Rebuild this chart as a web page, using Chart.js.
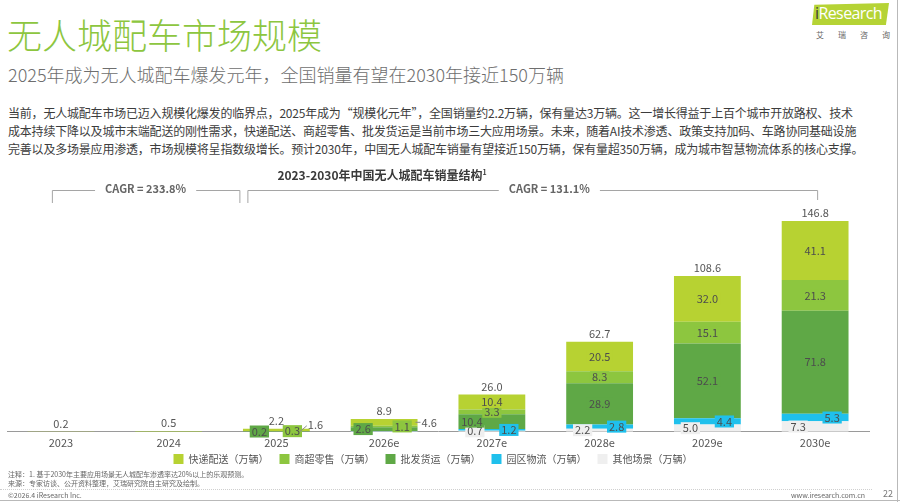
<!DOCTYPE html>
<html>
<head>
<meta charset="utf-8">
<script src="https://cdn.jsdelivr.net/npm/chart.js@4/dist/chart.umd.min.js"></script>
<style>
  html, body { margin: 0; padding: 0; background: #fff; }
  body { width: 900px; height: 502px; position: relative; overflow: hidden;
         font-family: "Noto Sans CJK SC", "Noto Sans", sans-serif; }
  .abs { position: absolute; white-space: nowrap; }
  #title { left: 7px; top: 16px; font-size: 35px; line-height: 35px; color: #8dc63f; font-weight: 300; }
  #subtitle { left: 8px; top: 64px; font-size: 18px; line-height: 20px; color: #6e6e6e; font-weight: 300; }
  #para { left: 8px; top: 104px; font-size: 12px; line-height: 18px; color: #3c3c3c; letter-spacing: -0.2px; }
  #ctitle { left: 382px; top: 164px; transform: translateX(-50%); font-size: 12px; line-height: 16px; font-weight: bold; color: #3a3a3a; }
  #ctitle sup { font-size: 7px; vertical-align: 5px; }
  #chartBox { position: absolute; left: 0; top: 160px; width: 900px; height: 320px; }
  .note { left: 8px; font-size: 7px; line-height: 8px; color: #666; }
  #footline { position: absolute; left: 0; top: 489px; width: 872px; border-top: 1px dotted #cfcfcf; }
  #logo { position: absolute; left: 812px; top: 3px; width: 77px; height: 22px; background: #b5d335;
          clip-path: polygon(3% 8%, 100% 0%, 96% 100%, 0% 100%); }
  #logoText { left: 815px; top: 3px; font-family: "Open Sans", "DejaVu Sans", sans-serif; font-size: 16px; line-height: 21px; color: #fff; letter-spacing: -0.6px; }
  #logoCn { left: 816px; top: 30px; font-size: 8px; line-height: 10px; color: #666; letter-spacing: 14px; }
  #rborder { position: absolute; left: 897px; top: 0; width: 1px; height: 502px; background: #b9b9b9; }
  #bborder { position: absolute; left: 0; top: 500px; width: 900px; height: 1px; background: #b9b9b9; }
</style>
</head>
<body>
<div id="title" class="abs">无人城配车市场规模</div>
<div id="subtitle" class="abs">2025年成为无人城配车爆发元年，全国销量有望在2030年接近150万辆</div>
<div id="para" class="abs">当前，无人城配车市场已迈入规模化爆发的临界点，2025年成为“规模化元年”，全国销量约2.2万辆，保有量达3万辆。这一增长得益于上百个城市开放路权、技术<br>成本持续下降以及城市末端配送的刚性需求，快递配送、商超零售、批发货运是当前市场三大应用场景。未来，随着AI技术渗透、政策支持加码、车路协同基础设施<br>完善以及多场景应用渗透，市场规模将呈指数级增长。预计2030年，中国无人城配车销量有望接近150万辆，保有量超350万辆，成为城市智慧物流体系的核心支撑。</div>
<div id="chartBox"><canvas id="chart"></canvas></div>
<div id="ctitle" class="abs">2023-2030年中国无人城配车销量结构<sup>1</sup></div>
<div class="abs note" style="top:470px;">注释：1. 基于2030年主要应用场景无人城配车渗透率达20%以上的乐观预测。</div>
<div class="abs note" style="top:479px;">来源：专家访谈、公开资料整理，艾瑞研究院自主研究及绘制。</div>
<div id="footline"></div>
<div class="abs note" style="top:491px;">©2026.4 iResearch Inc.</div>
<div class="abs note" style="top:491px; left:auto; right:35px;">www.iresearch.com.cn</div>
<div class="abs" style="top:489px; left:883px; font-size:9px; line-height:10px; color:#777;">22</div>
<div id="logo"></div>
<div id="logoText" class="abs"><span style="color:#3b3b3b">i</span>Research</div>
<div id="logoCn" class="abs">艾瑞咨询</div>
<div id="rborder"></div>
<div id="bborder"></div>

<script>
// ---- data ----
const categories = ['2023', '2024', '2025', '2026e', '2027e', '2028e', '2029e', '2030e'];
const otherScene = [0, 0, 0, 0.3, 0.7, 2.2, 5.0, 7.3];        // 其他场景
const parkLogistics = [0, 0, 0.1, 0.3, 1.2, 2.8, 4.4, 5.3];   // 园区物流
const wholesale = [0, 0.1, 0.2, 2.6, 10.4, 28.9, 52.1, 71.8]; // 批发货运
const retail = [0, 0.1, 0.3, 1.1, 3.3, 8.3, 15.1, 21.3];      // 商超零售
const express = [0.2, 0.3, 1.6, 4.6, 10.4, 20.5, 32.0, 41.1]; // 快递配送
const totals = [0.2, 0.5, 2.2, 8.9, 26.0, 62.7, 108.6, 146.8];
const seriesNames = ['其他场景（万辆）', '园区物流（万辆）', '批发货运（万辆）', '商超零售（万辆）', '快递配送（万辆）'];
const cagrTexts = ['CAGR = 233.8%', 'CAGR = 131.1%'];

// ---- styles ----
const colors = ['#efefef', '#1fc0ec', '#5fa846', '#8dc63f', '#b7d232'];
const FONT = '"Noto Sans CJK SC", "Noto Sans", sans-serif';

// label placement rules (styling only)
function placement(ds, j) {
  if (j < 2) return null;
  if (ds === 0) return j >= 4 ? { dx: -17 } : null;
  if (ds === 1) return j >= 4 ? { dx: 17 } : null;
  if (ds === 2) { if (j === 2) return { dx: -17 }; if (j === 3) return { dx: -21 }; if (j === 4) return { dx: -20 }; return { dx: 0 }; }
  if (ds === 3) { if (j === 2) return { dx: 16 }; if (j === 3) return { dx: 18 }; return { dx: 0 }; }
  if (ds === 4) {
    if (j === 2) return { outside: true, l: [-10, 2, -3, -4], t: [-2, -5] };
    if (j === 3) return { outside: true, l: [-2, 0, 3, 0], t: [4, 0] };
    return { dx: 0 };
  }
  return null;
}

const labelPlugin = {
  id: 'labels',
  afterDatasetsDraw(chart) {
    const ctx = chart.ctx;
    ctx.save();
    ctx.font = '11px ' + FONT;
    ctx.textBaseline = 'middle';
    const n = chart.data.datasets.length;
    for (let ds = 0; ds < n; ds++) {
      const meta = chart.getDatasetMeta(ds);
      meta.data.forEach((bar, j) => {
        const v = chart.data.datasets[ds].data[j];
        const p = placement(ds, j);
        if (!p || !v) return;
        const cy = (bar.y + bar.base) / 2;
        const txt = v.toFixed(1);
        const w = ctx.measureText(txt).width;
        if (p.outside) {
          const R = bar.x + bar.width / 2;
          ctx.strokeStyle = '#8a8a8a';
          ctx.lineWidth = 1;
          ctx.beginPath();
          ctx.moveTo(R + p.l[0], cy + p.l[1]);
          ctx.lineTo(R + p.l[2], cy + p.l[3]);
          ctx.stroke();
          ctx.fillStyle = '#555';
          ctx.textAlign = 'left';
          ctx.fillText(txt, R + p.t[0], cy + p.t[1]);
        } else {
          const x = bar.x + p.dx;
          ctx.fillStyle = colors[ds];
          ctx.fillRect(x - w / 2 - 2, cy - 6, w + 4, 12);
          ctx.fillStyle = '#4d4d4d';
          ctx.textAlign = 'center';
          ctx.fillText(txt, x, cy);
        }
      });
    }
    // totals
    const topMeta = chart.getDatasetMeta(n - 1);
    ctx.fillStyle = '#555';
    ctx.textAlign = 'center';
    topMeta.data.forEach((bar, j) => {
      ctx.fillText(totals[j].toFixed(1), bar.x, bar.y - 8);
    });
    // CAGR brackets
    const xs = chart.scales.x;
    const yTop = 30, yDrop = 43;
    const brackets = [
      [xs.getPixelForValue(0) - 9, xs.getPixelForValue(2) - 37, yDrop, yDrop, 0.5],
      [xs.getPixelForValue(2) - 29, xs.getPixelForValue(7) + 2, yDrop, 40, 0.53]
    ];
    ctx.font = 'bold 11px ' + FONT;
    brackets.forEach((b, k) => {
      const [x0, x1, d0, d1, f] = b;
      const tx = x0 + (x1 - x0) * f;
      const tw = ctx.measureText(cagrTexts[k]).width;
      ctx.strokeStyle = '#a5a5a5';
      ctx.lineWidth = 1;
      ctx.beginPath();
      ctx.moveTo(x0 + 0.5, d0); ctx.lineTo(x0 + 0.5, yTop + 0.5); ctx.lineTo(tx - tw / 2 - 10, yTop + 0.5);
      ctx.moveTo(tx + tw / 2 + 10, yTop + 0.5); ctx.lineTo(x1 + 0.5, yTop + 0.5); ctx.lineTo(x1 + 0.5, d1);
      ctx.stroke();
      ctx.fillStyle = '#666';
      ctx.textAlign = 'center';
      ctx.fillText(cagrTexts[k], tx, yTop - 1);
    });
    ctx.restore();
  }
};

const seriesData = [otherScene, parkLogistics, wholesale, retail, express];
new Chart(document.getElementById('chart'), {
  type: 'bar',
  data: {
    labels: categories,
    datasets: seriesData.map((d, i) => ({
      label: seriesNames[i],
      data: d,
      backgroundColor: colors[i],
      borderWidth: 0,
      categoryPercentage: 1,
      barPercentage: 0.62
    }))
  },
  options: {
    responsive: true,
    maintainAspectRatio: false,
    animation: false,
    devicePixelRatio: 1,
    layout: { padding: { left: 7, right: 31, top: 56.5, bottom: 6 } },
    scales: {
      x: {
        stacked: true,
        grid: { display: false, drawTicks: false },
        border: { display: true, color: '#9a9a9a', width: 1 },
        ticks: { color: '#555', font: { size: 11, family: FONT }, padding: 4, maxRotation: 0 }
      },
      y: { stacked: true, display: false, min: 0, max: 150 }
    },
    plugins: {
      legend: {
        position: 'bottom',
        reverse: true,
        labels: {
          boxWidth: 10, boxHeight: 10, padding: 1, color: '#555', font: { size: 10, family: FONT },
          generateLabels(chart) {
            const items = Chart.defaults.plugins.legend.labels.generateLabels(chart);
            items.forEach(it => { it.text = it.text + '\u2003'; });
            return items;
          }
        }
      },
      tooltip: { enabled: false },
      title: { display: false }
    }
  },
  plugins: [labelPlugin]
});
</script>
</body>
</html>
